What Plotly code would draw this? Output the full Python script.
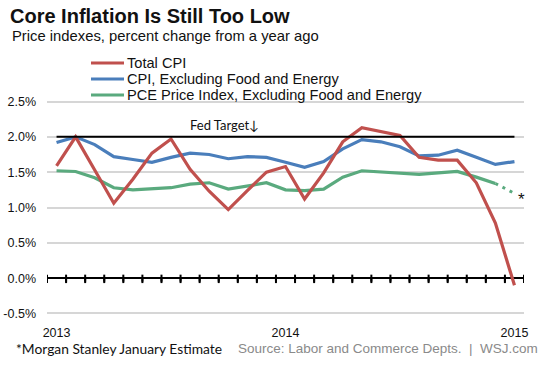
import plotly.graph_objects as go

# ---------------- data ----------------
months = ["Jan 2013", "Feb 2013", "Mar 2013", "Apr 2013", "May 2013", "Jun 2013",
          "Jul 2013", "Aug 2013", "Sep 2013", "Oct 2013", "Nov 2013", "Dec 2013",
          "Jan 2014", "Feb 2014", "Mar 2014", "Apr 2014", "May 2014", "Jun 2014",
          "Jul 2014", "Aug 2014", "Sep 2014", "Oct 2014", "Nov 2014", "Dec 2014",
          "Jan 2015"]
total_cpi = [1.59, 2.00, 1.53, 1.06, 1.40, 1.77, 1.97, 1.54, 1.23, 0.97, 1.24, 1.50,
             1.58, 1.12, 1.49, 1.93, 2.13, 2.08, 2.02, 1.71, 1.67, 1.67, 1.35, 0.78, -0.10]
core_cpi = [1.92, 2.00, 1.89, 1.72, 1.68, 1.64, 1.71, 1.77, 1.75, 1.69, 1.72, 1.71,
            1.64, 1.57, 1.65, 1.83, 1.96, 1.93, 1.86, 1.73, 1.74, 1.81, 1.71, 1.61, 1.65]
core_pce = [1.52, 1.51, 1.42, 1.28, 1.25, 1.27, 1.28, 1.33, 1.35, 1.26, 1.31, 1.35,
            1.25, 1.24, 1.26, 1.43, 1.52, 1.50, 1.49, 1.47, 1.49, 1.51, 1.43, 1.34, None]
pce_estimate = 1.20          # Morgan Stanley January estimate
fed_target = 2.0
year_ticks = ["Jan 2013", "Jan 2014", "Jan 2015"]
year_labels = ["2013", "2014", "2015"]
y_ticks = [-0.5, 0.0, 0.5, 1.0, 1.5, 2.0, 2.5]
y_labels = ["-0.5%", "0.0%", "0.5%", "1.0%", "1.5%", "2.0%", "2.5%"]
series_names = ["Total CPI", "CPI, Excluding Food and Energy",
                "PCE Price Index, Excluding Food and Energy"]

# ---------------- style ----------------
RED, BLUE, GREEN = "#c0504d", "#4a7ebb", "#5aaa7e"
W, H = 556, 372
ML, MR, MT, MB = 47, 32, 98, 55
YMIN, YMAX = -0.55, 2.55
ARIAL = "Liberation Sans, Arial, sans-serif"
CALIBRI = "Lato, Carlito, Calibri, sans-serif"
TICK_LEN = 0.07  # tick mark length below the zero line, in axis units

pw, ph = W - ML - MR, H - MT - MB
n = len(months)
month_idx = list(range(n))
boundaries = [i - 0.5 for i in range(n + 1)]


def px_x(x):
    return (x - ML) / pw


def px_y(y):
    return (H - MB - y) / ph


fig = go.Figure()

# Fed target line (on x2: linear month-index axis)
fig.add_trace(go.Scatter(x=[month_idx[0], month_idx[-1]], y=[fed_target, fed_target],
                         mode="lines", line=dict(color="black", width=2),
                         xaxis="x2", hoverinfo="skip", showlegend=False))

for vals, col, name in [(core_pce, GREEN, series_names[2]),
                        (core_cpi, BLUE, series_names[1]),
                        (total_cpi, RED, series_names[0])]:
    fig.add_trace(go.Scatter(x=months, y=vals, mode="lines", name=name,
                             line=dict(color=col, width=3.2), showlegend=False))

# dotted estimate
fig.add_trace(go.Scatter(x=[months[-2], months[-1]], y=[core_pce[-2], pce_estimate],
                         mode="lines", line=dict(color=GREEN, width=3, dash="3px,5px"),
                         showlegend=False))

# month-boundary tick marks on the zero line
fig.add_trace(go.Scatter(x=boundaries, y=[0.0] * len(boundaries), mode="markers",
                         marker=dict(symbol="line-ns", size=5, color="black",
                                     line=dict(color="black", width=2)),
                         error_y=dict(type="data", symmetric=False, visible=True,
                                      array=[0.0] * len(boundaries),
                                      arrayminus=[TICK_LEN] * len(boundaries),
                                      thickness=2, width=0, color="black"),
                         xaxis="x2", hoverinfo="skip", showlegend=False))

annotations = []
shapes = []

# title & subtitle
annotations.append(dict(text="<b>Core Inflation Is Still Too Low</b>", xref="paper", yref="paper",
                        x=px_x(8), y=px_y(16), xanchor="left", yanchor="middle",
                        showarrow=False, font=dict(family=ARIAL, size=20, color="#111")))
annotations.append(dict(text="Price indexes, percent change from a year ago", xref="paper",
                        yref="paper", x=px_x(10), y=px_y(36), xanchor="left",
                        yanchor="middle", showarrow=False,
                        font=dict(family=ARIAL, size=14.8, color="#111")))

# manual legend
for i, (name, col) in enumerate(zip(series_names, [RED, BLUE, GREEN])):
    yy = 63 + i * 16
    shapes.append(dict(type="line", xref="paper", yref="paper", x0=px_x(91), x1=px_x(124),
                       y0=px_y(yy), y1=px_y(yy), line=dict(color=col, width=3)))
    annotations.append(dict(text=name, xref="paper", yref="paper", x=px_x(125), y=px_y(yy),
                            xanchor="left", yanchor="middle", showarrow=False,
                            font=dict(family=ARIAL, size=14.6, color="#111")))

# Fed target label
annotations.append(dict(text="Fed Target\u2193", xref="paper", yref="y", x=px_x(224),
                        y=fed_target, xanchor="center", yanchor="bottom", yshift=2,
                        showarrow=False, font=dict(family=CALIBRI, size=13, color="#111")))
# asterisk
annotations.append(dict(text="*", xref="x", yref="y", x=months[-1], y=pce_estimate,
                        xanchor="left", yanchor="middle", xshift=2, yshift=-6,
                        showarrow=False, font=dict(family=ARIAL, size=17, color="#111")))
# footnotes
annotations.append(dict(text="*Morgan Stanley January Estimate", xref="paper", yref="paper",
                        x=px_x(14), y=px_y(348), xanchor="left", yanchor="middle",
                        showarrow=False, font=dict(family=CALIBRI, size=13.8, color="#111")))
annotations.append(dict(text="Source: Labor and Commerce Depts.&nbsp;&nbsp;|&nbsp;&nbsp;WSJ.com",
                        xref="paper", yref="paper", x=px_x(540), y=px_y(348),
                        xanchor="right", yanchor="middle", showarrow=False,
                        font=dict(family=ARIAL, size=13.5, color="#8a8a8a")))

fig.update_layout(
    width=W, height=H, margin=dict(l=ML, r=MR, t=MT, b=MB, autoexpand=False),
    paper_bgcolor="white", plot_bgcolor="white", showlegend=False,
    xaxis=dict(type="category", categoryorder="array", categoryarray=months,
               range=[-0.5, n - 0.5], tickmode="array", tickvals=year_ticks,
               ticktext=year_labels, showgrid=False, showline=False, zeroline=False,
               ticks="outside", ticklen=4, tickcolor="rgba(0,0,0,0)", automargin=False,
               tickfont=dict(family=ARIAL, size=12.5, color="#111")),
    xaxis2=dict(type="linear", range=[-0.5, n - 0.5], overlaying="x", anchor="y",
                side="bottom", showticklabels=False, ticks="", showgrid=False,
                showline=False, zeroline=False, automargin=False),
    yaxis=dict(range=[YMIN, YMAX], tickmode="array", tickvals=y_ticks, ticktext=y_labels,
               showgrid=True, gridcolor="#d6d6d6", gridwidth=1.5, zeroline=True,
               zerolinecolor="black", zerolinewidth=2, showline=False, ticks="",
               automargin=False, ticklabelstandoff=10,
               tickfont=dict(family=ARIAL, size=12.5, color="#111")),
    annotations=annotations, shapes=shapes,
)

fig.write_html("out.html", config={"displayModeBar": False},
               post_script="document.body.style.margin='0';document.body.style.padding='0';")
